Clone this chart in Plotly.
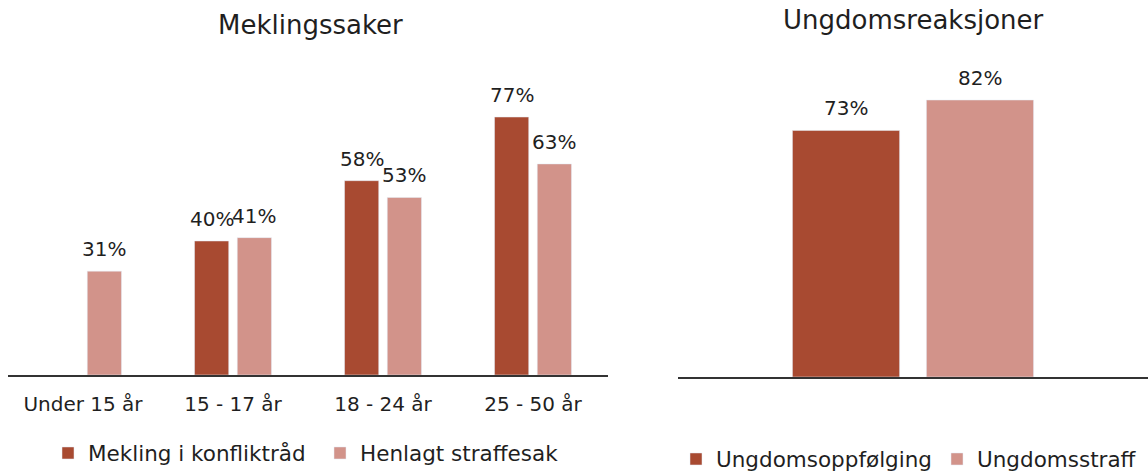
import plotly.graph_objects as go

# Data
age_groups = ["Under 15 år", "15 - 17 år", "18 - 24 år", "25 - 50 år"]
mekling = [None, 40, 58, 77]
henlagt = [31, 41, 53, 63]

youth_cat = [""]
oppfolging = [73]
straff = [82]

DARK = "#A84A31"
PINK = "#D2938A"
FONT = "DejaVu Sans"
TXT = "#1f1f1f"
BARGAP = 0.43

fig = go.Figure()

fig.add_trace(go.Bar(x=age_groups, y=mekling, name="Mekling i konfliktråd",
                     marker_color=DARK, xaxis="x", yaxis="y", legend="legend"))
fig.add_trace(go.Bar(x=age_groups, y=henlagt, name="Henlagt straffesak",
                     marker_color=PINK, xaxis="x", yaxis="y", legend="legend"))
fig.add_trace(go.Bar(x=youth_cat, y=oppfolging, name="Ungdomsoppfølging",
                     marker_color=DARK, xaxis="x2", yaxis="y2", legend="legend2"))
fig.add_trace(go.Bar(x=youth_cat, y=straff, name="Ungdomsstraff",
                     marker_color=PINK, xaxis="x2", yaxis="y2", legend="legend2"))

# value labels placed at bar tops via the data axes
off = (1 - BARGAP) / 4
annotations = []
for xref, yref, series_list in [
    ("x", "y", [mekling, henlagt]),
    ("x2", "y2", [oppfolging, straff]),
]:
    for s_idx, series in enumerate(series_list):
        for i, v in enumerate(series):
            if v is None:
                continue
            annotations.append(dict(
                x=i + (-off if s_idx == 0 else off), y=v, xref=xref, yref=yref,
                text=f"{v}%", showarrow=False, xanchor="center", yanchor="bottom",
                yshift=8, font=dict(family=FONT, size=20, color=TXT)))

annotations += [
    dict(text="Meklingssaker", x=310/1148, y=1-25/471, xref="paper", yref="paper",
         xanchor="center", yanchor="middle", showarrow=False,
         font=dict(family=FONT, size=26, color=TXT)),
    dict(text="Ungdomsreaksjoner", x=913/1148, y=1-20/471, xref="paper", yref="paper",
         xanchor="center", yanchor="middle", showarrow=False,
         font=dict(family=FONT, size=26, color=TXT)),
]

axis_common = dict(showgrid=False, zeroline=False, showline=True,
                   linecolor="#333333", linewidth=2, ticks="",
                   tickfont=dict(family=FONT, size=20, color=TXT), fixedrange=True)
yaxis_common = dict(showgrid=False, zeroline=False, showline=False,
                    showticklabels=False, range=[0, 90], fixedrange=True)

fig.update_layout(
    width=1148, height=471,
    margin=dict(l=0, r=0, t=0, b=0, autoexpand=False),
    paper_bgcolor="white", plot_bgcolor="white",
    bargap=BARGAP, bargroupgap=0.2,
    font=dict(family=FONT, size=20, color=TXT),
    xaxis=dict(domain=[8/1148, 608/1148], anchor="y", range=[-0.5, 3.5],
               ticklabelstandoff=10, **axis_common),
    yaxis=dict(domain=[96/471, 0.844], anchor="x", **yaxis_common),
    xaxis2=dict(domain=[678/1148, 1.0], anchor="y2", range=[-0.5, 0.5],
                showticklabels=False, **axis_common),
    yaxis2=dict(domain=[94/471, 0.845], anchor="x2", **yaxis_common),
    legend=dict(orientation="h", x=48/1148, xanchor="left", y=1-453/471, yanchor="middle",
                font=dict(family=FONT, size=21.5, color=TXT), bgcolor="rgba(0,0,0,0)",
                entrywidth=227, entrywidthmode="pixels"),
    legend2=dict(orientation="h", x=676/1148, xanchor="left", y=1-459/471, yanchor="middle",
                 font=dict(family=FONT, size=21.5, color=TXT), bgcolor="rgba(0,0,0,0)"),
    annotations=annotations,
)

fig.write_html("out.html", config={"displayModeBar": False},
               post_script="document.body.style.margin='0px';")
